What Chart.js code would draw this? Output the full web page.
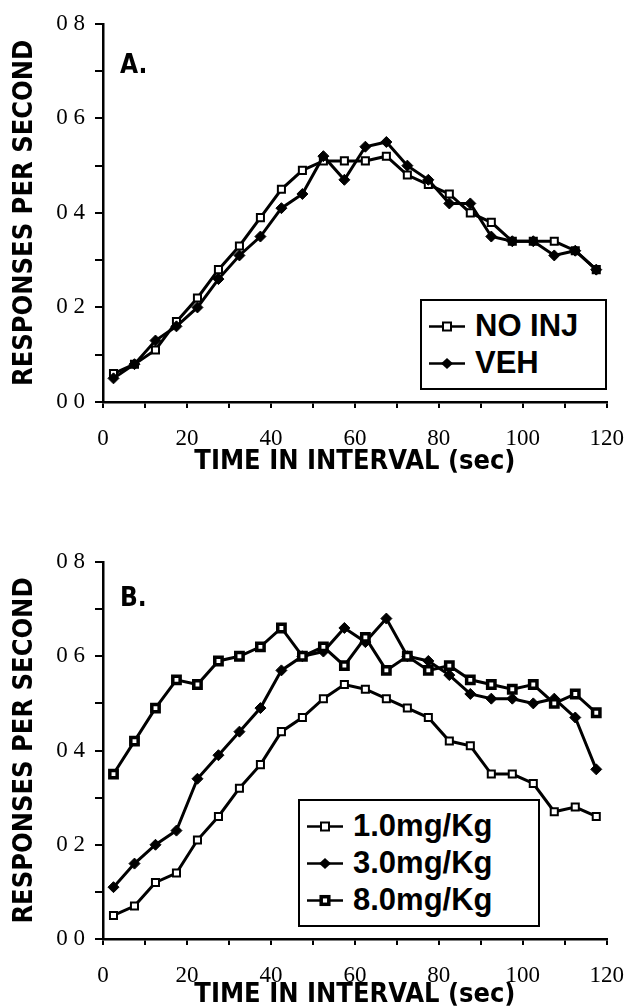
<!DOCTYPE html>
<html><head><meta charset="utf-8">
<script src="https://cdn.jsdelivr.net/npm/chart.js@4.4.0/dist/chart.umd.min.js"></script>
<style>
html,body{margin:0;padding:0;background:#fff;}
body{width:641px;height:1006px;position:relative;overflow:hidden;}
canvas{position:absolute;left:0;}
.lab{position:absolute;font-family:"DejaVu Sans Condensed","DejaVu Sans",sans-serif;font-weight:bold;font-size:26px;color:#000;line-height:1;}
.legend{position:absolute;border:2px solid #000;background:#fff;box-sizing:border-box;}
.row{position:absolute;left:7px;height:30px;display:flex;align-items:center;white-space:nowrap;}
.row span{font-family:"Liberation Sans",Arial,sans-serif;font-weight:bold;font-size:31px;margin-left:10px;color:#000;}
</style></head>
<body>
<canvas id="cA" width="641" height="480" style="top:0;width:641px;height:480px"></canvas>
<canvas id="cB" width="641" height="486" style="top:520px;width:641px;height:486px"></canvas>
<div class="lab" style="left:120px;top:51px">A.</div>
<div class="lab" style="left:120px;top:584px">B.</div>
<div class="legend" id="legA" style="left:420px;top:299px;width:187px;height:91px"></div>
<div class="legend" id="legB" style="left:298px;top:799px;width:242px;height:128px"></div>
<script>
// ---- data ----
const timeSec = [2.5,7.5,12.5,17.5,22.5,27.5,32.5,37.5,42.5,47.5,52.5,57.5,62.5,67.5,72.5,77.5,82.5,87.5,92.5,97.5,102.5,107.5,112.5,117.5];
const noInj = [0.06,0.08,0.11,0.17,0.22,0.28,0.33,0.39,0.45,0.49,0.51,0.51,0.51,0.52,0.48,0.46,0.44,0.40,0.38,0.34,0.34,0.34,0.32,0.28];
const veh   = [0.05,0.08,0.13,0.16,0.20,0.26,0.31,0.35,0.41,0.44,0.52,0.47,0.54,0.55,0.50,0.47,0.42,0.42,0.35,0.34,0.34,0.31,0.32,0.28];
const mg1 = [0.05,0.07,0.12,0.14,0.21,0.26,0.32,0.37,0.44,0.47,0.51,0.54,0.53,0.51,0.49,0.47,0.42,0.41,0.35,0.35,0.33,0.27,0.28,0.26];
const mg3 = [0.11,0.16,0.20,0.23,0.34,0.39,0.44,0.49,0.57,0.60,0.61,0.66,0.63,0.68,0.60,0.59,0.56,0.52,0.51,0.51,0.50,0.51,0.47,0.36];
const mg8 = [0.35,0.42,0.49,0.55,0.54,0.59,0.60,0.62,0.66,0.60,0.62,0.58,0.64,0.57,0.60,0.57,0.58,0.55,0.54,0.53,0.54,0.50,0.52,0.48];
const labelsA = ['NO INJ','VEH'];
const labelsB = ['1.0mg/Kg','3.0mg/Kg','8.0mg/Kg'];
const xTitle = 'TIME IN INTERVAL (sec)';
const yTitle = 'RESPONSES PER SECOND';

const styles = {
  open:  {pointStyle:'rect', pointRadius:5, pointBorderWidth:2, pointBackgroundColor:'#fff'},
  fill:  {pointStyle:'rectRot', pointRadius:5.5, pointBorderWidth:1, pointBackgroundColor:'#000'},
  dot:   {pointStyle:'rect', pointRadius:5.2, pointBorderWidth:3.5, pointBackgroundColor:'#fff'}
};
function ds(label, vals, st, order){
  return Object.assign({
    label, data: timeSec.map((t,i)=>({x:t,y:vals[i]})),
    borderColor:'#000', borderWidth:3, pointBorderColor:'#000',
    pointHoverRadius:styles[st].pointRadius, tension:0, order
  }, styles[st]);
}
const tickFont = {family:'"Liberation Serif","Times New Roman",serif', size:23};
const titleFont = {family:'"DejaVu Sans Condensed","DejaVu Sans",sans-serif', size:27, weight:'bold', lineHeight:0.8};

function makeChart(id, datasets, padTop, xH, titlePadB){
  return new Chart(document.getElementById(id), {
    type:'line',
    data:{datasets},
    options:{
      responsive:false, animation:false,
      layout:{padding:{top:padTop,right:19,left:0,bottom:0}},
      plugins:{legend:{display:false}, tooltip:{enabled:false}},
      scales:{
        x:{type:'linear', position:'bottom', min:0, max:120,
          ticks:{stepSize:10, autoSkip:false, maxRotation:0, minRotation:0, color:'#000', font:tickFont, padding:17,
            callback:v=> (Math.round(v)%20===0 ? String(Math.round(v)) : '')},
          grid:{display:true, drawOnChartArea:false, drawTicks:true, tickLength:6, color:'#000', lineWidth:2},
          border:{display:true, color:'#000', width:2.5},
          title:{display:true, text:xTitle, color:'#000', font:titleFont, padding:{top:0,bottom:titlePadB}},
          afterFit:s=>{s.height = xH;}
        },
        y:{type:'linear', min:0, max:0.8,
          ticks:{stepSize:0.1, color:'#000', font:tickFont, padding:10,
            callback:v=>{const k=Math.round(v*10); return k%2===0 ? '0 '+k : '';}},
          grid:{display:true, drawOnChartArea:false, drawTicks:true, tickLength:8, color:'#000', lineWidth:2},
          border:{display:true, color:'#000', width:2.5},
          title:{display:true, text:yTitle, color:'#000', font:titleFont, padding:{top:14,bottom:0}},
          afterFit:s=>{s.width = 103;}
        }
      }
    }
  });
}
makeChart('cA', [ds(labelsA[0], noInj, 'open', 1), ds(labelsA[1], veh, 'fill', 0)], 20, 78, 7);
makeChart('cB', [ds(labelsB[0], mg1, 'open', 2), ds(labelsB[1], mg3, 'fill', 1), ds(labelsB[2], mg8, 'dot', 0)], 42, 67, 0);

// ---- HTML legends ----
function symbol(st){
  let m='';
  if(st==='open') m='<rect x="14" y="3.5" width="8" height="8" fill="#fff" stroke="#000" stroke-width="2"/>';
  if(st==='fill') m='<polygon points="18,2 24,7.5 18,13 12,7.5" fill="#000"/>';
  if(st==='dot') m='<rect x="14.2" y="3.7" width="7.6" height="7.6" fill="#fff" stroke="#000" stroke-width="3.5"/>';
  return '<svg width="36" height="15" viewBox="0 0 36 15"><line x1="0" y1="7.5" x2="36" y2="7.5" stroke="#000" stroke-width="2.5"/>'+m+'</svg>';
}
function fillLegend(id, labels, sts){
  const el=document.getElementById(id);
  labels.forEach((l,i)=>{
    const r=document.createElement('div'); r.className='row';
    r.style.top=(10+37*i)+'px';
    r.innerHTML=symbol(sts[i])+'<span>'+l+'</span>';
    el.appendChild(r);
  });
}
fillLegend('legA', labelsA, ['open','fill']);
fillLegend('legB', labelsB, ['open','fill','dot']);
</script>
</body></html>
